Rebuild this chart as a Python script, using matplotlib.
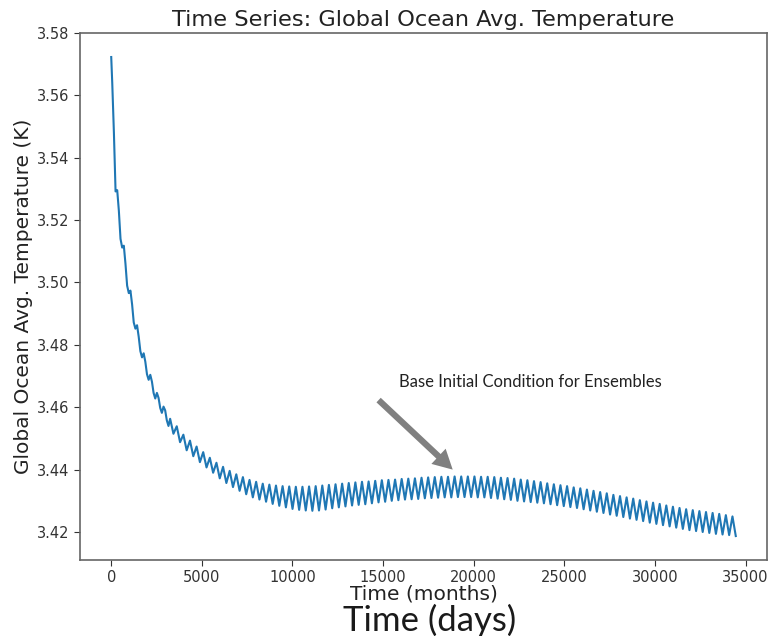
import numpy as np
import matplotlib
matplotlib.use("Agg")
import matplotlib.pyplot as plt

plt.rcParams["font.family"] = ["DejaVu Sans"]

# ---- data ----
# early spin-up: quarter-year samples (days, temperature K)
early_days = [0, 56, 148, 239, 330, 421, 512, 604, 695, 786, 877, 969, 1060,
              1151, 1242, 1334, 1425, 1516, 1607, 1699, 1790, 1881, 1972, 2064,
              2155, 2246, 2337, 2429, 2520, 2611, 2702, 2794, 2885, 2976, 3067, 3159]
early_temp = [3.5723, 3.5640, 3.5480, 3.5292, 3.5296, 3.5230, 3.5140, 3.5112, 3.5118,
              3.5060, 3.4990, 3.4966, 3.4974, 3.4930, 3.4872, 3.4852, 3.4863, 3.4826,
              3.4780, 3.4760, 3.4773, 3.4746, 3.4706, 3.4688, 3.4704, 3.4682, 3.4646,
              3.4628, 3.4646, 3.4630, 3.4598, 3.4582, 3.4602, 3.4590, 3.4558, 3.4540]

# afterwards: yearly seasonal peaks (from day 3250, every 365 days) and the
# troughs half a year later
peak_temp = [3.4563, 3.4539, 3.4512, 3.4493, 3.4474, 3.4456, 3.4438, 3.4422, 3.4409, 3.4396,
             3.4385, 3.4376, 3.4367, 3.4361, 3.4355, 3.4352, 3.4349, 3.4347, 3.4346, 3.4345,
             3.4345, 3.4346, 3.4347, 3.4349, 3.4351, 3.4353, 3.4355, 3.4357, 3.4359, 3.4361,
             3.4362, 3.4364, 3.4366, 3.4367, 3.4368, 3.4370, 3.4371, 3.4372, 3.4374, 3.4375,
             3.4376, 3.4377, 3.4377, 3.4378, 3.4378, 3.4378, 3.4378, 3.4377, 3.4377, 3.4376,
             3.4374, 3.4373, 3.4371, 3.4368, 3.4366, 3.4363, 3.4360, 3.4356, 3.4353, 3.4350,
             3.4347, 3.4343, 3.4340, 3.4336, 3.4332, 3.4328, 3.4324, 3.4319, 3.4315, 3.4311,
             3.4307, 3.4302, 3.4298, 3.4294, 3.4290, 3.4285, 3.4281, 3.4277, 3.4273, 3.4270,
             3.4267, 3.4264, 3.4261, 3.4258, 3.4254, 3.4250]
trough_temp = [3.4515, 3.4488, 3.4462, 3.4443, 3.4424, 3.4407, 3.4390, 3.4372, 3.4357, 3.4344,
               3.4332, 3.4321, 3.4311, 3.4304, 3.4297, 3.4290, 3.4284, 3.4279, 3.4274, 3.4271,
               3.4269, 3.4268, 3.4269, 3.4272, 3.4276, 3.4279, 3.4282, 3.4285, 3.4287, 3.4289,
               3.4292, 3.4295, 3.4297, 3.4300, 3.4302, 3.4304, 3.4305, 3.4306, 3.4308, 3.4309,
               3.4310, 3.4311, 3.4311, 3.4312, 3.4312, 3.4312, 3.4311, 3.4311, 3.4309, 3.4307,
               3.4305, 3.4303, 3.4300, 3.4298, 3.4296, 3.4294, 3.4292, 3.4289, 3.4286, 3.4283,
               3.4280, 3.4277, 3.4273, 3.4269, 3.4265, 3.4261, 3.4256, 3.4252, 3.4248, 3.4243,
               3.4239, 3.4235, 3.4230, 3.4226, 3.4222, 3.4218, 3.4214, 3.4210, 3.4206, 3.4203,
               3.4200, 3.4197, 3.4194, 3.4192, 3.4190, 3.4187]

title = "Time Series: Global Ocean Avg. Temperature"
xlabel = "Time (months)"
ylabel = "Global Ocean Avg. Temperature (K)"
overlay_label = "Time (days)"
note = "Base Initial Condition for Ensembles"
xticks = [0, 5000, 10000, 15000, 20000, 25000, 30000, 35000]
yticks = [3.42, 3.44, 3.46, 3.48, 3.50, 3.52, 3.54, 3.56, 3.58]

# ---- assemble series ----
peak_days = 3250 + 365 * np.arange(len(peak_temp))
trough_days = peak_days + 182.5
late_days = np.empty(2 * len(peak_temp))
late_temp = np.empty(2 * len(peak_temp))
late_days[0::2] = peak_days
late_days[1::2] = trough_days
late_temp[0::2] = peak_temp
late_temp[1::2] = trough_temp
days = np.concatenate([early_days, late_days])
temp = np.concatenate([early_temp, late_temp])

# ---- figure ----
W, H = 772, 636
fig = plt.figure(figsize=(W / 100, H / 100), dpi=100)
ax = fig.add_axes([80 / W, 1 - 560 / H, (767 - 80) / W, (560 - 33) / H])

ax.plot(days, temp, color="#1f77b4", lw=1.5)

ax.set_xticks(xticks)
ax.set_yticks(yticks)
ax.set_yticklabels([f"{v:.2f}" for v in yticks])
ax.tick_params(labelsize=10.5, colors="#333333", length=4)
for s in ax.spines.values():
    s.set_color("#666666")
    s.set_linewidth(1.2)

ax.set_title(title, fontsize=16.2, color="#222222", pad=5)
ax.set_xlabel(xlabel, fontsize=14.5, color="#222222", labelpad=-1)
ax.set_ylabel(ylabel, fontsize=14.5, color="#222222", labelpad=3)

ax.annotate("", xy=(18840, 3.4400), xytext=(14752, 3.4623),
            arrowprops=dict(facecolor="#808080", edgecolor="none",
                            width=4.5, headwidth=15, headlength=14, shrink=0))
ax.text(15857, 3.4681, note, fontsize=12, family=["Lato", "DejaVu Sans"],
        ha="left", va="center", color="#222222")

fig.text(430 / W, 1 - 620.5 / H, overlay_label, fontsize=25,
         family=["Lato", "DejaVu Sans"],
         ha="center", va="center", color="#1a1a1a")

fig.savefig("out.png", dpi=100)
